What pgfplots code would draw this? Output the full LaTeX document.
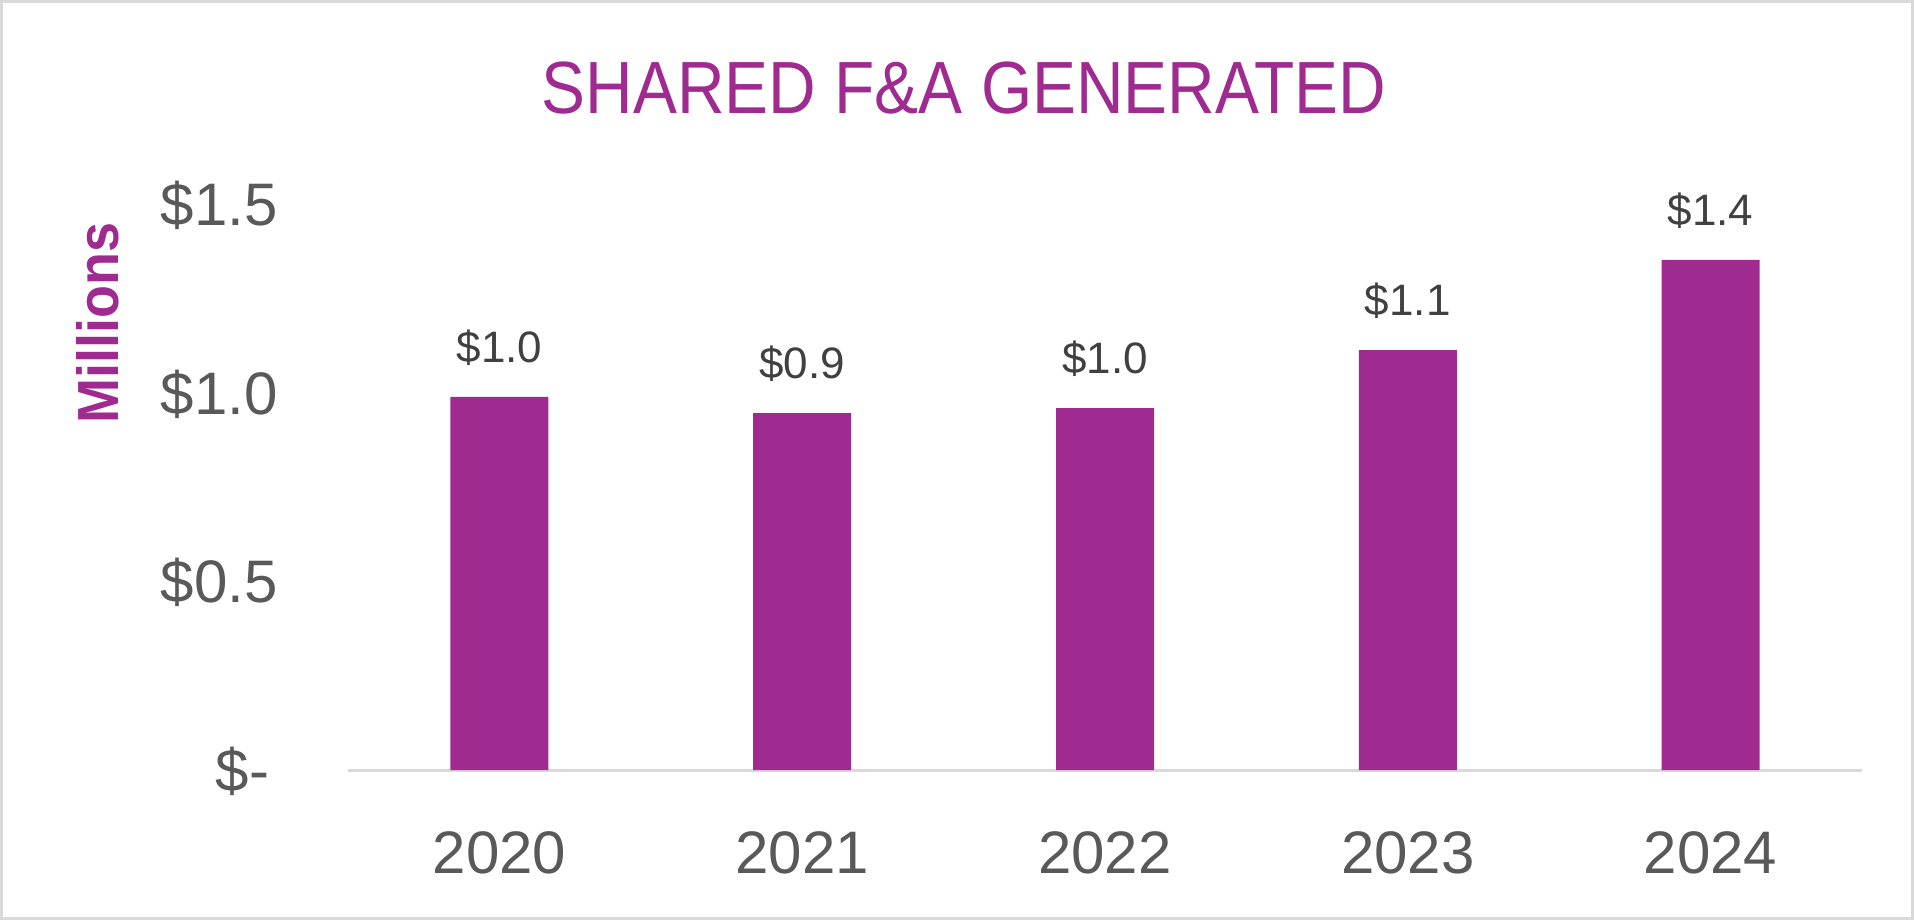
\documentclass[border=0pt]{standalone}
\usepackage{fontspec}
\setmainfont{Liberation Sans}
\newfontfamily\titlefont[FakeStretch=0.89]{Liberation Sans}
\newfontfamily\labelfont[FakeStretch=0.93]{Liberation Sans}
\usepackage{pgfplots}
\pgfplotsset{compat=1.18}

\definecolor{plum}{HTML}{A02B90}
\definecolor{ticktext}{HTML}{595959}
\definecolor{valtext}{HTML}{404040}
\definecolor{rulegray}{HTML}{D9D9D9}

\begin{document}
\begin{tikzpicture}
  \path[use as bounding box] (0,0) rectangle (957bp,460bp);
  \draw[rulegray, line width=1.3bp] (0.65bp,0.65bp) rectangle (956.35bp,459.35bp);
  % title and y label
  \node[anchor=base, inner sep=0pt, text=plum] at (482bp,403.25bp)
    {\titlefont\fontsize{37bp}{44bp}\selectfont SHARED F\&A GENERATED};
  \node[rotate=90, inner sep=0pt, text=plum] at (49bp,298.5bp)
    {\labelfont\bfseries\fontsize{29bp}{35bp}\selectfont Millions};
  \begin{axis}[
    at={(174bp,75bp)}, anchor=south west,
    scale only axis, width=757bp, height=283bp,
    xmin=-0.5, xmax=4.5, ymin=0, ymax=1.5,
    axis x line*=bottom, axis y line*=left,
    x axis line style={rulegray, line width=1.5bp, -},
    y axis line style={draw=none},
    major tick length=0pt,
    xtick={0,1,2,3,4},
    xticklabels={2020,2021,2022,2023,2024},
    ytick={0,0.5,1,1.5},
    yticklabels={\$-\kern4.3bp,\$0.5,\$1.0,\$1.5},
    ticklabel style={font=\fontsize{30bp}{36bp}\selectfont, text=ticktext,
      inner sep=0pt, text height=21.5bp, text depth=0pt},
    xticklabel style={anchor=north, yshift=-30bp},
    yticklabel style={anchor=east, xshift=-35bp},
    /pgf/number format/assume math mode=true,
    ybar, bar width=49bp,
    nodes near coords={\$\pgfmathprintnumber[fixed, fixed zerofill, precision=1]{\pgfplotspointmeta}},
    every node near coord/.append style={font=\fontsize{22bp}{26bp}\selectfont,
      text=valtext, anchor=south, inner sep=0pt, text depth=0pt, yshift=17bp},
    clip=false,
  ]
    \addplot[fill=plum, draw=none] coordinates {(0,0.989) (1,0.946) (2,0.959) (3,1.113) (4,1.352)};
  \end{axis}
\end{tikzpicture}
\end{document}
